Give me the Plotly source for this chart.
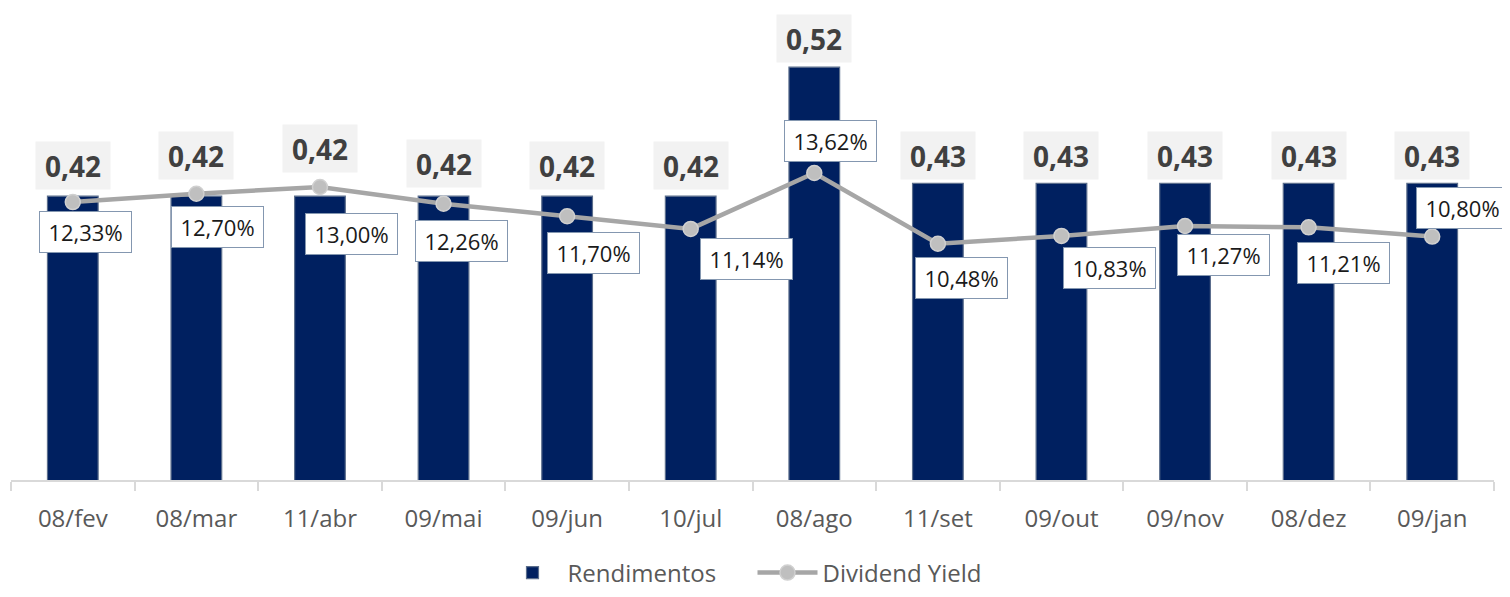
import plotly.graph_objects as go

categories = ["08/fev", "08/mar", "11/abr", "09/mai", "09/jun", "10/jul",
              "08/ago", "11/set", "09/out", "09/nov", "08/dez", "09/jan"]
rendimentos = [0.42, 0.42, 0.42, 0.42, 0.42, 0.42, 0.52, 0.43, 0.43, 0.43, 0.43, 0.43]
dividend_yield = [12.33, 12.70, 13.00, 12.26, 11.70, 11.14, 13.62, 10.48, 10.83, 11.27, 11.21, 10.80]

# label placement (pixels) relative to the mark
bar_label_shift = [31, 41, 48, 33, 31, 31, 29, 28, 28, 28, 28, 28]
dy_label_shift = [(13, -30), (21, -33), (32, -47), (18, -37), (26, -37), (56, -30),
                  (16, 32), (24, -34), (48, -32), (38, -29), (35, -36), (30, 29)]

FONT = "Open Sans"

fig = go.Figure()
fig.add_trace(go.Bar(
    x=categories, y=rendimentos, name="Rendimentos",
    marker=dict(color="#002060", line=dict(color="#5B6E8C", width=1.2)),
    yaxis="y",
))
fig.add_trace(go.Scatter(
    x=categories, y=dividend_yield, name="Dividend Yield", mode="lines+markers",
    line=dict(color="#A6A6A6", width=4.5),
    marker=dict(size=15, color="#BFBFBF", line=dict(color="#D0D0D0", width=1.5)),
    yaxis="y2",
))

annotations = []
for i, (c, v) in enumerate(zip(categories, rendimentos)):
    annotations.append(dict(
        x=c, y=v, xref="x", yref="y", text=f"{v:.2f}".replace(".", ","),
        showarrow=False, yanchor="middle", yshift=bar_label_shift[i],
        width=58, height=31, borderpad=8,
        font=dict(family=FONT, size=28, color="#404040", weight="bold"),
        bgcolor="#F2F2F2",
    ))
for i, (c, v) in enumerate(zip(categories, dividend_yield)):
    xs, ys = dy_label_shift[i]
    annotations.append(dict(
        x=c, y=v, xref="x", yref="y2", text=f"{v:.2f}".replace(".", ",") + "%",
        showarrow=False, yanchor="middle", xshift=xs, yshift=ys,
        width=79, height=28, borderpad=6,
        font=dict(family=FONT, size=22, color="#1A1A1A"),
        bgcolor="#FFFFFF", bordercolor="#8497B0", borderwidth=1,
    ))

W, H = 1502, 581
plot_top, plot_bottom = 12, 472
plot_h = plot_bottom - plot_top
fig.update_layout(
    width=W, height=H,
    margin=dict(l=3, r=16, t=plot_top, b=H - plot_bottom),
    paper_bgcolor="white", plot_bgcolor="white",
    separators=",.",
    bargap=0.59,
    font=dict(family=FONT, color="#595959"),
    xaxis=dict(
        range=[-0.5, len(categories) - 0.5],
        showline=True, linecolor="#D9D9D9", linewidth=1.5,
        ticks="outside", tickson="boundaries", ticklen=9, tickcolor="#D9D9D9", tickwidth=1.5,
        tickfont=dict(family=FONT, size=24, color="#595959"),
        ticklabelstandoff=16, showgrid=False,
    ),
    yaxis=dict(range=[0.2, 0.2 + plot_h / 1290], visible=False, showgrid=False),
    yaxis2=dict(range=[0, plot_h / 22.54], overlaying="y", visible=False, showgrid=False),
    showlegend=True,
    legend=dict(
        orientation="h", xanchor="center", x=0.5, yref="container", y=1 - 565 / H,
        yanchor="middle",
        font=dict(family=FONT, size=24, color="#595959"),
        itemwidth=60, entrywidth=180, tracegroupgap=0,
    ),
    annotations=annotations,
)

fig.write_html("out.html")
